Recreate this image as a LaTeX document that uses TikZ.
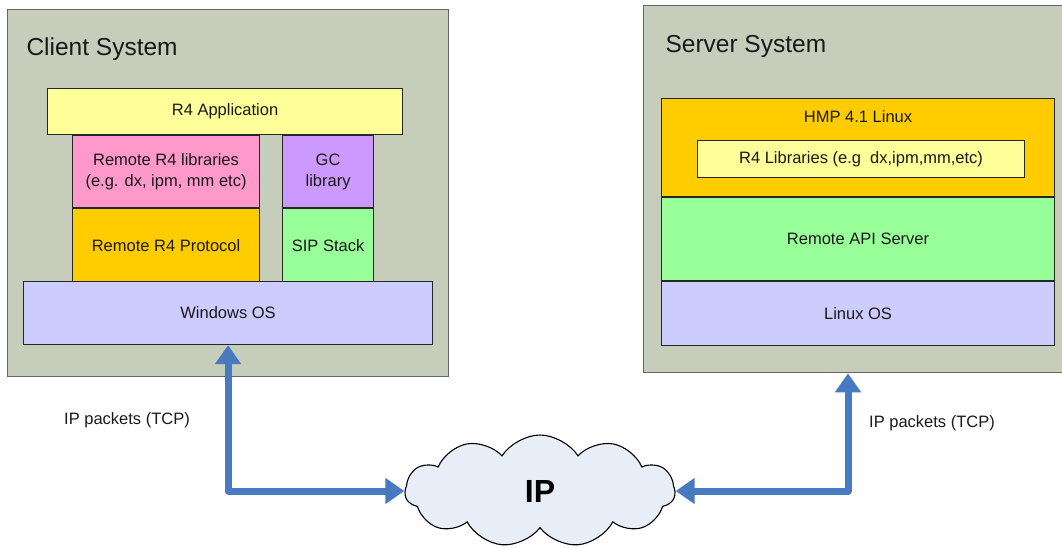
\documentclass[tikz,border=0pt]{standalone}
\usepackage{fontspec}
\setmainfont{Liberation Sans}
\usetikzlibrary{calc,shapes.symbols,arrows.meta}
\definecolor{sysgray}{RGB}{198,205,186}
\definecolor{appyellow}{RGB}{255,255,153}
\definecolor{libpink}{RGB}{255,153,204}
\definecolor{protoorange}{RGB}{255,204,0}
\definecolor{gcpurple}{RGB}{204,153,255}
\definecolor{stackgreen}{RGB}{153,255,153}
\definecolor{oslavender}{RGB}{204,204,255}
\definecolor{cloudblue}{RGB}{232,238,248}
\definecolor{linkblue}{RGB}{72,122,194}

\begin{document}
\begin{tikzpicture}[x=1pt,y=-1pt,font={\fontsize{16.5}{21}\selectfont},
                    system/.style={draw=black!60,fill=sysgray,line width=1.3pt,anchor=north west,inner sep=0pt},
                    systitle/.style={anchor=base west,font={\fontsize{24.5}{28}\selectfont},text=black!90},
                    layer/.style={draw=black!85,line width=1.1pt,anchor=north west,align=center,inner sep=0pt,text=black!90},
                    cloudnode/.style={cloud,cloud puffs=11,cloud puff arc=115,aspect=2.4,draw=black,line width=1.1pt,
                                      fill=cloudblue,minimum width=270pt,minimum height=112pt,inner sep=0pt,
                                      font={\fontsize{32}{36}\selectfont\bfseries}},
                    link/.style={draw=linkblue,line width=7pt,line join=round,
                                 {Triangle[width=25pt,length=19pt]}-{Triangle[width=25pt,length=19pt]}}]
    \useasboundingbox (0,0) rectangle (1062,547);

    \node[system,minimum width=441pt,minimum height=367pt] (client) at (7,9) {};
    \node[systitle] (clienttitle) at ($ (client.north west) + (16,46) $) {Client System};

    \node[layer,fill=appyellow,minimum width=355pt,minimum height=46pt] (r4app) at (47,88) {R4 Application};
    \node[layer,fill=libpink,minimum width=187pt,minimum height=72pt] (remlib) at (72,135) {
        Remote R4 libraries\\
        (e.g. dx, ipm, mm etc)
    };
    \node[layer,fill=protoorange,minimum width=187pt,minimum height=74pt] (remproto) at (remlib.south west) {Remote R4 Protocol};
    \node[layer,fill=gcpurple,minimum width=91pt,minimum height=72pt] (gclib) at (282,135) {
        GC\\
        library
    };
    \node[layer,fill=stackgreen,minimum width=91pt,minimum height=74pt] (sip) at (gclib.south west) {SIP Stack};
    \node[layer,fill=oslavender,minimum width=409pt,minimum height=63pt] (winos) at (23,281) {Windows OS};

    \node[system,minimum width=423pt,minimum height=367pt] (server) at (643,5) {};
    \node[systitle] (servertitle) at ($ (server.north west) + (19,47) $) {Server System};

    \node[layer,fill=protoorange,minimum width=393pt,minimum height=98pt] (hmp) at (661,98) {};
    \node[anchor=base,text=black!90] (hmptitle) at ($ (hmp.north) + (0,24) $) {HMP 4.1 Linux};
    \node[layer,fill=appyellow,minimum width=327pt,minimum height=37pt] (r4lib) at (697,140) {R4 Libraries (e.g\ \ dx,ipm,mm,etc)};
    \node[layer,fill=stackgreen,minimum width=393pt,minimum height=83pt] (remapi) at (hmp.south west) {Remote API Server};
    \node[layer,fill=oslavender,minimum width=393pt,minimum height=64pt] (linuxos) at (remapi.south west) {Linux OS};

    \node[cloudnode] (ip) at (540,491) {IP};

    \coordinate (serverport) at ($ (server.south west) + (205,0) $);

    \draw[link] (winos.south) |- (ip.west);
    \draw[link] (serverport) |- (ip.east);

    \node[text=black!90] (leftlabel) at (127,420) {IP packets (TCP)};
    \node[text=black!90] (rightlabel) at (932,423) {IP packets (TCP)};
\end{tikzpicture}
\end{document}
